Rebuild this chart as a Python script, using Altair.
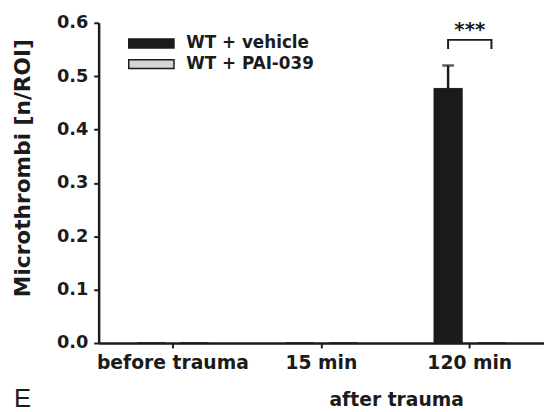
import altair as alt
import pandas as pd

# ---- data ----
times = ["before trauma", "15 min", "120 min"]
groups = ["WT + vehicle", "WT + PAI-039"]
vehicle_means = [0.0, 0.0, 0.477]
pai_means = [0.0, 0.0, 0.0]
vehicle_err = [0.0, 0.0, 0.043]
pai_err = [0.0, 0.0, 0.0]
y_ticks = [0.0, 0.1, 0.2, 0.3, 0.4, 0.5, 0.6]
sig_time = "120 min"
sig_label = "***"
bracket_low = 0.551
bracket_high = 0.568
star_level = 0.586
x_title = "after trauma"
y_title = "Microthrombi [n/ROI]"
panel_label = "E"
colors = ["#1b1b1b", "#d5d5d5"]
ink = "#1b1b1b"
FONT = "DejaVu Sans"

# ---- tables ----
bars = []
for i, t in enumerate(times):
    bars.append({"time": t, "group": groups[0], "mean": vehicle_means[i],
                 "upper": vehicle_means[i] + vehicle_err[i], "err": vehicle_err[i]})
    bars.append({"time": t, "group": groups[1], "mean": pai_means[i],
                 "upper": pai_means[i] + pai_err[i], "err": pai_err[i]})
bars_df = pd.DataFrame(bars)
err_df = bars_df[bars_df["err"] > 0]

bracket_df = pd.DataFrame({
    "time": [sig_time] * 4,
    "group": [groups[0], groups[0], groups[1], groups[1]],
    "level": [bracket_low, bracket_high, bracket_high, bracket_low],
    "order": [0, 1, 2, 3],
})
star_df = pd.DataFrame({"time": [sig_time], "level": [star_level], "label": [sig_label]})

# ---- shared encodings ----
x_axis = alt.Axis(labelAngle=0, title=x_title, titleX=302, titleY=63,
                  titleAlign="center", titleBaseline="alphabetic",
                  titleFont=FONT, titleFontSize=19, titleFontWeight="bold",
                  titleColor=ink, labelFontSize=19, labelPadding=6, zindex=1)
y_axis = alt.Axis(values=y_ticks, format=".1f", title=y_title,
                  titleX=-77, titleY=147, titleAngle=270, titleAlign="center",
                  titleBaseline="middle", titleFont=FONT, titleFontSize=22,
                  titleFontWeight="bold", titleColor=ink, labelFontSize=18,
                  labelPadding=6, zindex=1)


def X():
    return alt.X("time:N", sort=times,
                 scale=alt.Scale(domain=times, paddingInner=0, paddingOuter=0),
                 axis=x_axis)


def XO():
    return alt.XOffset("group:N", sort=groups,
                       scale=alt.Scale(domain=groups, paddingInner=0.35, paddingOuter=0.887))


def Y(field):
    return alt.Y(field, scale=alt.Scale(domain=[0, 0.6], nice=False), axis=y_axis)


bar_layer = alt.Chart(bars_df).mark_bar(stroke=ink, strokeWidth=1).encode(
    x=X(), xOffset=XO(), y=Y("mean:Q"),
    color=alt.Color("group:N", sort=groups,
                    scale=alt.Scale(domain=groups, range=colors),
                    legend=alt.Legend(title=None, orient="none", legendX=45, legendY=12.5,
                                      symbolType="M-5.1,-1H5.1V1H-5.1Z", symbolSize=81,
                                      symbolStrokeColor=ink, symbolStrokeWidth=1.5,
                                      symbolOpacity=1, labelFont=FONT, labelFontSize=17,
                                      labelFontWeight="bold", labelColor=ink,
                                      labelOffset=27, rowPadding=3, padding=0)),
)

err_rule = alt.Chart(err_df).mark_rule(color=ink, strokeWidth=2.5).encode(
    x=X(), xOffset=XO(), y=Y("mean:Q"), y2="upper:Q")
err_cap = alt.Chart(err_df).mark_tick(color=ink, size=12, thickness=2.5).encode(
    x=X(), xOffset=XO(), y=Y("upper:Q"))

bracket = alt.Chart(bracket_df).mark_line(color=ink, strokeWidth=2).encode(
    x=X(), xOffset=XO(), y=Y("level:Q"), order="order:Q")

stars = alt.Chart(star_df).mark_text(font=FONT, fontWeight="bold", fontSize=20,
                                     color=ink, baseline="middle").encode(
    x=X(), y=Y("level:Q"), text="label:N")

chart = alt.layer(bar_layer, err_rule, err_cap, bracket, stars).properties(
    width=452, height=325,
    autosize=alt.AutoSizeParams(type="none"),
    padding={"left": 92, "top": 12, "right": 0, "bottom": 67},
    title=alt.TitleParams(panel_label, orient="bottom", anchor="start", frame="group",
                          dx=-86, dy=-27, font="Liberation Sans", fontSize=26,
                          fontWeight="normal", color=ink),
).configure(background="white").configure_view(strokeWidth=0).configure_axis(
    domainColor=ink, domainWidth=2.5, tickColor=ink, tickWidth=2, tickSize=5,
    labelFont=FONT, labelFontWeight="bold", labelColor=ink, grid=False,
)

chart.save("out.html", embed_options={"renderer": "svg", "actions": False})
